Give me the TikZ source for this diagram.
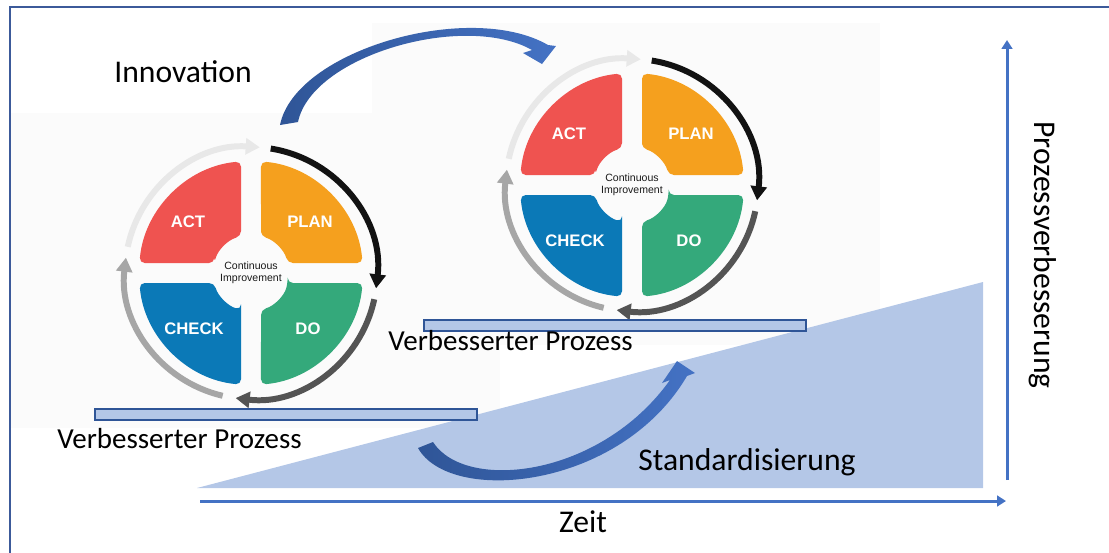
\documentclass[tikz,border=0pt]{standalone}
\usepackage{fontspec}
\setmainfont{Carlito}
\newfontfamily\pdcafont{Liberation Sans}
\usetikzlibrary{arrows.meta}

\definecolor{actcol}{HTML}{EF5350}
\definecolor{plancol}{HTML}{F5A01E}
\definecolor{docol}{HTML}{34A97B}
\definecolor{checkcol}{HTML}{0B79B7}
\definecolor{axiscol}{HTML}{4472C4}
\definecolor{darkblue}{HTML}{2F5597}
\definecolor{paleblue}{HTML}{B4C7E7}
\definecolor{framecol}{HTML}{3C5A9A}

\tikzset{
  quad/.style={rounded corners=3pt},
  ring/.style={line width=3.4pt, -{Triangle[length=8pt,width=9pt]}},
  pdcalabel/.style={text=white, inner sep=0pt, font=\pdcafont\bfseries\fontsize{9.5}{11}\selectfont},
  midtext/.style={text=black!90, align=center, inner sep=0pt, font=\pdcafont\fontsize{6}{6.6}\selectfont},
  bar/.style={fill=paleblue, draw=darkblue, line width=0.6pt},
  axis/.style={axiscol, line width=1.7pt, -{Triangle[length=5pt,width=6pt]}},
  label/.style={inner sep=0pt, font=\fontsize{18}{22}\selectfont},
  sublabel/.style={inner sep=0pt, font=\fontsize{16.5}{20}\selectfont}
}

% one PDCA wheel: #1 = name prefix, #2 = centre
\newcommand{\pdcawheel}[2]{%
  \begin{scope}[shift={#2}, y=0.02cm]
    % quadrants
    \foreach \rot/\col in {0/plancol, 90/actcol, 180/checkcol, 270/docol}
      \fill[\col, quad, rotate=\rot] (74.74:38) -- (84.88:112)
        arc[start angle=84.88, end angle=5.12, radius=112] -- (15.26:38)
        arc[start angle=15.26, end angle=74.74, radius=38] -- cycle;
    % ring arrows
    \draw[ring, black!93] (81:126) arc[start angle=81, end angle=-7, radius=126];
    \draw[ring, black!67] (-12:126) arc[start angle=-12, end angle=-97, radius=126];
    \draw[ring, black!35] (-103:126) arc[start angle=-103, end angle=-187, radius=126];
    \draw[ring, black!9] (168:126) arc[start angle=168, end angle=86, radius=126];
    % labels
    \node[pdcalabel] (#1plan) at (59,51) {PLAN};
    \node[pdcalabel] (#1act) at (-63,51) {ACT};
    \node[pdcalabel] (#1check) at (-57,-56) {CHECK};
    \node[pdcalabel] (#1do) at (57,-56) {DO};
    \node[midtext] (#1mid) at (0,0) {Continuous\\Improvement};
  \end{scope}}

\begin{document}
\begin{tikzpicture}[x=0.02cm, y=-0.02cm]
  \useasboundingbox (0,0) rectangle (1109,552);
  \clip (0,0) rectangle (1109,552);

  % backgrounds of the two wheels
  \fill[black!1.5] (10,113) rectangle (500,428);
  \fill[black!1.5] (372,23) rectangle (880,345);

  % rising area
  \fill[paleblue] (197,488) -- (983,282) -- (983,488) -- cycle;

  % wheels
  \pdcawheel{a}{(251,273)}
  \pdcawheel{b}{(632,185)}

  % process levels
  \draw[bar] (95,409) rectangle (477,420);
  \draw[bar] (424,320) rectangle (806,331);

  % curved arrows
  \shade[left color=darkblue, right color=axiscol]
    (280,125) .. controls (295,50) and (470,0) .. (548,45) -- (556,46) -- (542,64)
    -- (523,53) -- (532,50) .. controls (465,12) and (312,55) .. (298,122) -- cycle;
  \shade[left color=darkblue, right color=axiscol]
    (418,448) .. controls (450,505) and (620,490) .. (687,376) -- (695,373) -- (677,361)
    -- (662,383) -- (670,380) .. controls (600,478) and (465,492) .. (433,442) -- cycle;

  % axes
  \coordinate (origin) at (200,501);
  \coordinate (xend) at (1006,501);
  \coordinate (ybottom) at (1007,480);
  \coordinate (ytop) at (1007,40);
  \draw[axis] (origin) -- (xend);
  \draw[axis] (ybottom) -- (ytop);

  % texts
  \node[label, anchor=base west] (innov) at (114,82) {Innovation};
  \node[label, anchor=base west] (stand) at (638,470) {Standardisierung};
  \node[label] (zeit) at (583,522) {Zeit};
  \node[label, rotate=-90] (verb) at (1043,255) {Prozessverbesserung};
  \node[sublabel, anchor=base west] (proza) at (57,448) {Verbesserter Prozess};
  \node[sublabel, anchor=base west] (prozb) at (388,350) {Verbesserter Prozess};

  % frame
  \draw[framecol, line width=1.2pt] (10,7) rectangle (1130,570);
\end{tikzpicture}
\end{document}
